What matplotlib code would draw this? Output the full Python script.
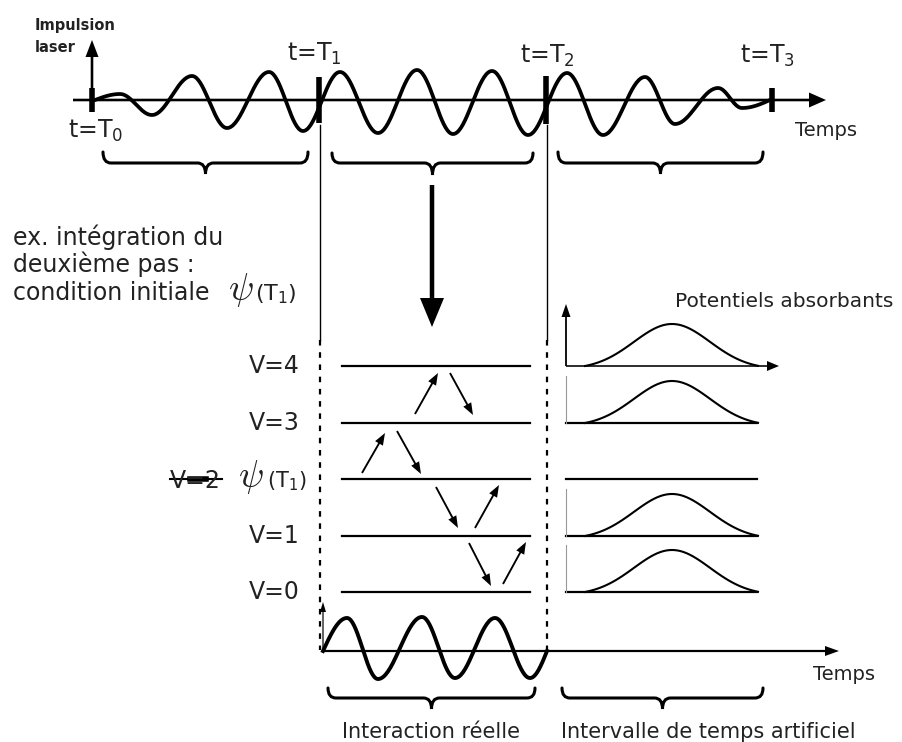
import numpy as np
import matplotlib.pyplot as plt
from matplotlib.path import Path
from matplotlib.patches import PathPatch

# laser pulse (x, height above the axis)
pulse_x = [95, 120, 152, 192, 227, 269, 303, 340, 378, 417, 453, 492, 528, 567, 603, 645, 675, 718, 742, 770]
pulse_dy = [0, 6, -15, 24, -28, 28, -31, 28, -33, 30, -34, 29, -35, 27, -35, 23, -24, 12, -8, 0]

# the chunk of pulse used for the second step
step_x = [323, 347, 378, 422, 455, 495, 530, 547]
step_dy = [0, 33, -28, 34, -27, 33, -27, 0]

time_labels = ['t=T$_0$', 't=T$_1$', 't=T$_2$', 't=T$_3$']
time_x = [92, 319, 546, 772]

level_names = ['V=4', 'V=3', 'V=2', 'V=1', 'V=0']
level_y = [366, 423, 479, 536, 592]
absorb_height = [42, 42, 0, 42, 42]

# transitions between levels (x0, y0, x1, y1)
transitions = [
    (415, 414, 438, 373), (450, 373, 473, 415),
    (362, 473, 385, 433), (397, 431, 421, 474),
    (436, 487, 458, 528), (475, 528, 499, 485),
    (469, 543, 491, 586), (503, 584, 526, 542),
]


def wave_from_extrema(xs, ys, n=40):
    px, py = [], []
    t = np.linspace(0, 1, n)
    for i in range(len(xs) - 1):
        x0, x1, y0, y1 = xs[i], xs[i + 1], ys[i], ys[i + 1]
        if y0 == 0:
            y = y1 * np.sin(np.pi / 2 * t)
        elif y1 == 0:
            y = y0 * np.cos(np.pi / 2 * t)
        else:
            y = y0 + (y1 - y0) * (1 - np.cos(np.pi * t)) / 2
        px += list(x0 + (x1 - x0) * t)
        py += list(y)
    return np.array(px), np.array(py)


def brace(ax, x0, x1, ytop, yline, ytip, r=8):
    xm = (x0 + x1) / 2
    verts = [(x0, ytop), (x0, yline), (x0 + r, yline), (xm - r, yline),
             (xm, yline), (xm, ytip), (xm, yline), (xm + r, yline),
             (x1 - r, yline), (x1, yline), (x1, ytop)]
    codes = [Path.MOVETO, Path.CURVE3, Path.CURVE3, Path.LINETO,
             Path.CURVE3, Path.CURVE3, Path.CURVE3, Path.CURVE3,
             Path.LINETO, Path.CURVE3, Path.CURVE3]
    ax.add_patch(PathPatch(Path(verts, codes), fill=False, lw=2.2, ec='k', capstyle='round'))


def arrow(ax, x0, y0, x1, y1, w, hw, hl, color='k'):
    ax.arrow(x0, y0, x1 - x0, y1 - y0, width=w, head_width=hw, head_length=hl,
             length_includes_head=True, fc=color, ec=color, lw=0)


fig = plt.figure(figsize=(9.03, 7.42), dpi=100)
ax = fig.add_axes([0, 0, 1, 1])
ax.set_xlim(0, 903)
ax.set_ylim(742, 0)
ax.axis('off')

# top time axis with the full pulse
axis_y = 100
arrow(ax, 73, axis_y, 826, axis_y, 2.6, 15, 17)
wx, wy = wave_from_extrema(pulse_x, pulse_dy)
ax.plot(wx, axis_y - wy, color='k', lw=2.7)
arrow(ax, 92, axis_y, 92, 40, 2.6, 13, 17)
ax.text(35, 30, 'Impulsion', fontsize=10.5, fontweight='semibold', color='#222222')
ax.text(35, 52, 'laser', fontsize=10.5, fontweight='semibold', color='#222222')
bar_half = [12, 23, 24, 12]
for x, h in zip(time_x, bar_half):
    ax.plot([x, x], [axis_y - h, axis_y + h], color='k', lw=4, solid_capstyle='butt')
label_pos = [(68, 138), (287, 61), (520, 63), (740, 63)]
for lab, (x, y) in zip(time_labels, label_pos):
    ax.text(x, y, lab, fontsize=17, va='baseline', color='#222222')
ax.text(795, 136, 'Temps', fontsize=14, va='baseline', color='#222222')

brace(ax, 103, 308, 152, 163, 174)
brace(ax, 332, 533, 153, 163, 175)
brace(ax, 558, 763, 152, 163, 174)

# window edges T1 and T2
for x in (320, 547):
    ax.plot([x, x], [125, 340], color='k', lw=1.0)
    ax.plot([x, x], [340, 650], color='k', lw=1.6, ls=(0, (2.5, 3)))

arrow(ax, 432, 185, 432, 327, 4.5, 24, 29)

# initial condition text
ax.text(13, 245, 'ex. intégration du', fontsize=17, va='baseline', color='#222222')
ax.text(13, 272, 'deuxième pas :', fontsize=17, va='baseline', color='#222222')
ax.text(13, 300, 'condition initiale', fontsize=17, va='baseline', color='#222222')
ax.text(228, 300, r'$\psi$', fontsize=27, va='baseline', math_fontfamily='cm', color='#222222')
ax.text(255, 300, '(T$_1$)', fontsize=16, va='baseline', color='#222222')

# vibrational levels
for name, y in zip(level_names, level_y):
    ax.plot([342, 530], [y, y], color='k', lw=1.6)
    if name == 'V=2':
        ax.text(170, y + 2, name, fontsize=17, va='center', color='#222222')
        ax.plot([170, 222], [y, y], color='k', lw=1.5)
        ax.plot([190, 206], [y, y], color='k', lw=4)
        ax.text(238, y + 8, r'$\psi$', fontsize=27, va='baseline', math_fontfamily='cm', color='#222222')
        ax.text(267, y + 8, '(T$_1$)', fontsize=15, va='baseline', color='#222222')
    else:
        ax.text(300, y, name, fontsize=17, va='center', ha='right', color='#222222')

for x0, y0, x1, y1 in transitions:
    arrow(ax, x0, y0, x1, y1, 1.9, 9, 12)

# absorbing potentials
ax.text(675, 307, 'Potentiels absorbants', fontsize=14.5, va='baseline', color='#222222')
bx = np.linspace(585, 758, 120)
g = np.exp(-(bx - 672) ** 2 / (2 * 38 ** 2))
shape = (g - g.min()) / (g.max() - g.min())
for i, (y, h) in enumerate(zip(level_y, absorb_height)):
    if i == 0:
        arrow(ax, 566, y, 779, y, 1.6, 10, 12)
        arrow(ax, 566, y, 566, 304, 1.8, 9, 13)
    else:
        ax.plot([566, 757], [y, y], color='k', lw=1.6)
        if h > 0:
            ax.plot([566, 566], [y - 47, y], color='#999999', lw=0.8)
    if h > 0:
        ax.plot(bx, y - h * shape, color='k', lw=1.5)

# bottom time axis with the step pulse
bot_y = 651
arrow(ax, 322, bot_y, 839, bot_y, 2.2, 10, 14)
arrow(ax, 323, bot_y, 323, 602, 1.2, 6, 10)
sx, sy = wave_from_extrema(step_x, step_dy)
ax.plot(sx, bot_y - sy, color='k', lw=2.8)
ax.text(813, 680, 'Temps', fontsize=14, va='baseline', color='#222222')

brace(ax, 328, 535, 688, 698, 709)
brace(ax, 562, 763, 688, 698, 709)
ax.text(431, 738, 'Interaction réelle', fontsize=15, ha='center', va='baseline', color='#222222')
ax.text(708, 738, 'Intervalle de temps artificiel', fontsize=15, ha='center', va='baseline', color='#222222')

fig.savefig('out.png', dpi=100)
